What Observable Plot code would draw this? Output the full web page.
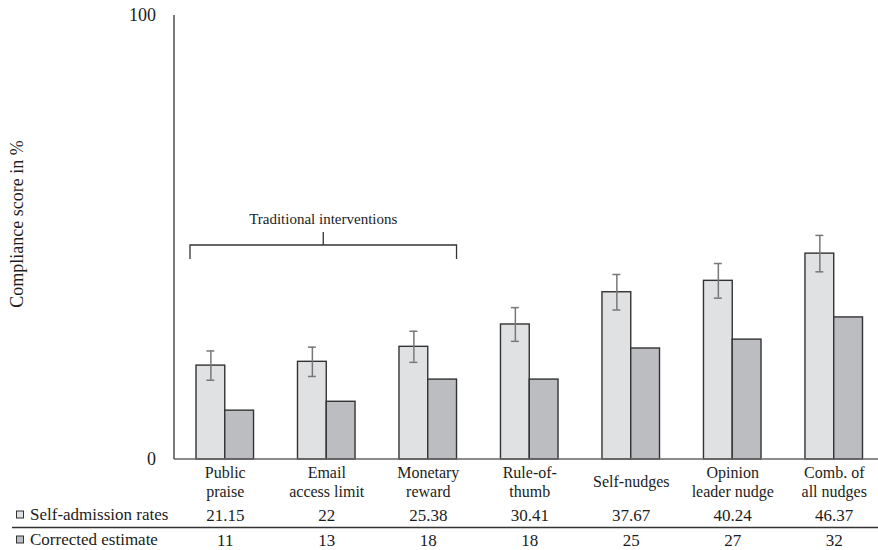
<!DOCTYPE html>
<html>
<head>
<meta charset="utf-8">
<script src="https://cdn.jsdelivr.net/npm/d3@7"></script>
<script src="https://cdn.jsdelivr.net/npm/@observablehq/plot@0.6"></script>
<style>
  body { margin: 0; background: #fff; }
  #chart svg { display: block; }
</style>
</head>
<body>
<div id="chart"></div>
<script>
// Interventions and the two measured series
const categories = ["Public praise", "Email access limit", "Monetary reward", "Rule-of-thumb", "Self-nudges", "Opinion leader nudge", "Comb. of all nudges"];
const categoryLabels = ["Public\npraise", "Email\naccess limit", "Monetary\nreward", "Rule-of-\nthumb", "Self-nudges", "Opinion\nleader nudge", "Comb. of\nall nudges"];
const seriesNames = ["Self-admission rates", "Corrected estimate"];
const selfAdmission = [21.15, 22, 25.38, 30.41, 37.67, 40.24, 46.37];
const corrected = [11, 13, 18, 18, 25, 27, 32];
const selfAdmissionError = [3.3, 3.3, 3.5, 3.8, 4.0, 3.9, 4.1];
const yTicks = [0, 100];
const yLabel = "Compliance score in %";
const groupLabel = "Traditional interventions";
const groupFirst = "Public praise";
const groupLast = "Monetary reward";

const fontFamily = "'Liberation Serif', 'Times New Roman', serif";
const lightFill = "#e0e1e3";
const darkFill = "#bcbdc1";

const selfRows = categories.map((c, i) => ({category: c, series: seriesNames[0], value: selfAdmission[i], error: selfAdmissionError[i]}));
const corrRows = categories.map((c, i) => ({category: c, series: seriesNames[1], value: corrected[i]}));
const rows = [...selfRows, ...corrRows];
const labelRows = categories.map((c, i) => ({category: c, label: categoryLabels[i]}));

const plot = Plot.plot({
  width: 878,
  height: 550,
  marginTop: 15,
  marginBottom: 91,
  marginLeft: 174,
  marginRight: -6.5,
  style: {fontFamily, fontSize: "16px", color: "#1c1c1c", background: "#fff", overflow: "visible"},
  fx: {domain: categories, paddingInner: 0.433, paddingOuter: 0.2167, round: false, axis: null, label: null},
  x: {domain: seriesNames, padding: 0, round: false, axis: null},
  y: {domain: [0, 100], axis: null},
  color: {domain: seriesNames, range: [lightFill, darkFill]},
  marks: [
    Plot.barY(rows, {fx: "category", x: "series", y: "value", fill: "series", stroke: "#333", strokeWidth: 1.4}),
    Plot.ruleX(selfRows, {fx: "category", x: "series", y1: d => d.value - d.error, y2: d => d.value + d.error, stroke: "#777", strokeWidth: 1.5}),
    Plot.tickY(selfRows, {fx: "category", x: "series", y: d => d.value + d.error, inset: 10.4, stroke: "#777", strokeWidth: 1.5}),
    Plot.tickY(selfRows, {fx: "category", x: "series", y: d => d.value - d.error, inset: 10.4, stroke: "#777", strokeWidth: 1.5}),
    Plot.text(labelRows, {fx: "category", text: "label", frameAnchor: "bottom", lineAnchor: "middle", dy: 22, lineHeight: 1.15, fontSize: 16}),
    Plot.text(selfRows, {fx: "category", text: d => String(d.value), frameAnchor: "bottom", lineAnchor: "middle", dy: 56, fontSize: 17}),
    Plot.text(corrRows, {fx: "category", text: d => String(d.value), frameAnchor: "bottom", lineAnchor: "middle", dy: 81, fontSize: 17})
  ]
});

document.getElementById("chart").append(plot);

// Axis frame, group bracket and the data-table row headers, placed with the plot's scales
const fx = plot.scale("fx");
const y = plot.scale("y");
const svg = d3.select(plot);
const left = fx.range[0];
const right = 878;
const y0 = y.apply(0);
const g = svg.append("g").attr("font-family", fontFamily).attr("fill", "#1c1c1c");

g.append("line").attr("x1", left).attr("x2", right).attr("y1", y0).attr("y2", y0)
  .attr("stroke", "#666").attr("stroke-width", 1.5);
g.append("line").attr("x1", left).attr("x2", left).attr("y1", y0).attr("y2", y.apply(100))
  .attr("stroke", "#333").attr("stroke-width", 1.3);
g.selectAll("text.ytick").data(yTicks).join("text")
  .attr("x", left - 18).attr("y", d => y.apply(d)).attr("dy", "0.32em")
  .attr("text-anchor", "end").attr("font-size", 18).text(d => d);
g.append("text")
  .attr("transform", `translate(17,${(y0 + y.apply(100)) / 2 - 13}) rotate(-90)`)
  .attr("dy", "0.32em").attr("text-anchor", "middle").attr("font-size", 18).text(yLabel);

// Bracket over the traditional interventions
const bx1 = fx.apply(groupFirst) - 6;
const bx2 = fx.apply(groupLast) + fx.bandwidth;
const bmid = (bx1 + bx2) / 2;
const by = y.apply(48.2);
g.append("path")
  .attr("d", `M${bx1},${by + 14}V${by}H${bx2}V${by + 14}M${bmid},${by}V${by - 13}`)
  .attr("fill", "none").attr("stroke", "#333").attr("stroke-width", 1.3);
g.append("text").attr("x", bmid).attr("y", by - 26).attr("dy", "0.32em")
  .attr("text-anchor", "middle").attr("font-size", 15).text(groupLabel);

// Data table row headers with legend swatches
const rowY = [y0 + 56, y0 + 81];
const swatches = [lightFill, darkFill];
seriesNames.forEach((name, i) => {
  g.append("rect").attr("x", 16.5).attr("y", rowY[i] - 4).attr("width", 7).attr("height", 7)
    .attr("fill", swatches[i]).attr("stroke", "#333").attr("stroke-width", 1);
  g.append("text").attr("x", 30).attr("y", rowY[i]).attr("dy", "0.32em")
    .attr("text-anchor", "start").attr("font-size", 17).text(name);
});
g.append("line").attr("x1", 12).attr("x2", right).attr("y1", (rowY[0] + rowY[1]) / 2).attr("y2", (rowY[0] + rowY[1]) / 2)
  .attr("stroke", "#333").attr("stroke-width", 1.3);
</script>
</body>
</html>
